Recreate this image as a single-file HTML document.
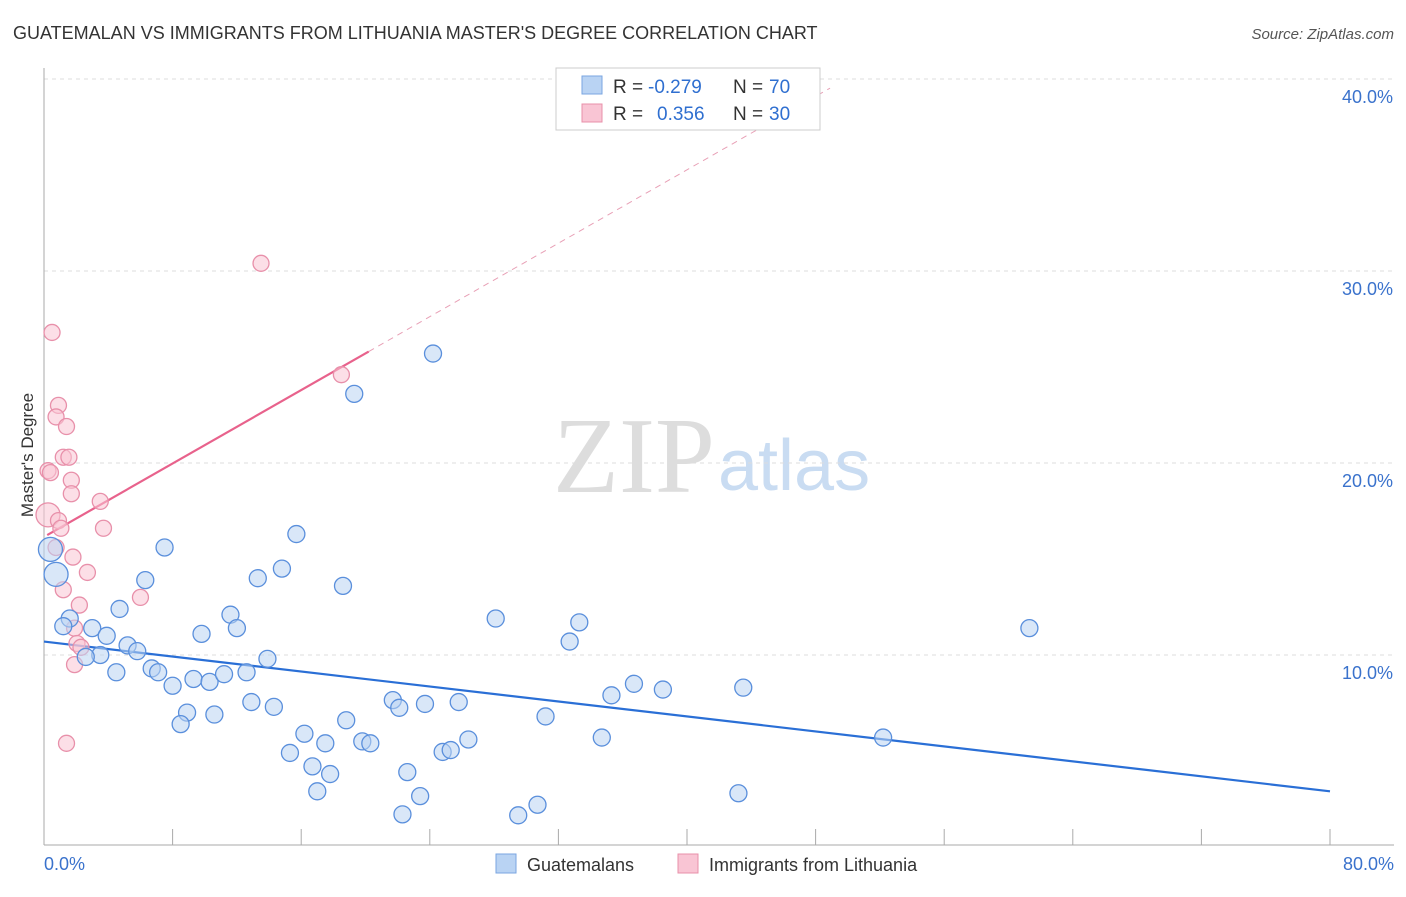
<!DOCTYPE html>
<html><head><meta charset="utf-8"><style>
body{margin:0;background:#fff;font-family:"Liberation Sans",sans-serif}
svg text{font-family:"Liberation Sans",sans-serif}
</style></head><body>
<svg id="chart" width="1406" height="892" xmlns="http://www.w3.org/2000/svg">
<text x="13" y="39" font-size="18" fill="#333">GUATEMALAN VS IMMIGRANTS FROM LITHUANIA MASTER'S DEGREE CORRELATION CHART</text>
<text x="1394" y="39" font-size="15" fill="#555" text-anchor="end" font-style="italic">Source: ZipAtlas.com</text>
<text x="553" y="492" font-size="108" fill="#ddd" style="font-family:'Liberation Serif',serif">ZIP</text>
<text x="718" y="490" font-size="72" fill="#c9dcf2">atlas</text>
<text transform="translate(33,455) rotate(-90)" font-size="17" fill="#333" text-anchor="middle">Master's Degree</text>
<g id="grid"></g><g id="axes"></g><g id="lines"></g><g id="pts"></g>
<g>
<rect x="556" y="68" width="264" height="62" fill="#fff" stroke="#ccc"/>
<rect x="582" y="76" width="20" height="18" fill="#b9d3f3" stroke="#7aa6e0"/>
<rect x="582" y="104" width="20" height="18" fill="#f9c5d4" stroke="#e890aa"/>
<text x="613" y="93" font-size="19" fill="#333">R =</text>
<text x="648" y="93" font-size="19" fill="#2f6fd0">-0.279</text>
<text x="733" y="93" font-size="19" fill="#333">N =</text>
<text x="769" y="93" font-size="19" fill="#2f6fd0">70</text>
<text x="613" y="120" font-size="19" fill="#333">R =</text>
<text x="657" y="120" font-size="19" fill="#2f6fd0">0.356</text>
<text x="733" y="120" font-size="19" fill="#333">N =</text>
<text x="769" y="120" font-size="19" fill="#2f6fd0">30</text>
</g>
<g>
<rect x="496" y="854" width="20" height="19" fill="#b9d3f3" stroke="#7aa6e0"/>
<text x="527" y="871" font-size="18" fill="#333">Guatemalans</text>
<rect x="678" y="854" width="20" height="19" fill="#f9c5d4" stroke="#e890aa"/>
<text x="709" y="871" font-size="18" fill="#333">Immigrants from Lithuania</text>
</g>
</svg>
<script>
const blueX=[24.2,19.3,7.5,15.7,14.8,13.3,18.6,6.3,4.7,1.6,1.2,3.0,3.9,11.6,12.0,9.8,28.1,33.3,32.7,61.3,5.2,5.8,3.5,2.6,4.5,6.7,7.1,8.0,9.3,10.3,11.2,12.6,13.9,36.7,35.3,38.5,43.5,12.9,14.3,21.7,22.1,23.7,25.8,8.9,10.6,8.5,18.8,31.2,16.2,17.5,19.8,20.3,15.3,26.4,24.8,25.3,34.7,52.2,16.7,17.8,22.6,17.0,23.4,22.3,29.5,30.7,43.2,0.75,0.4];
const blueY=[25.7,23.6,15.6,16.3,14.5,14.0,13.6,13.9,12.4,11.9,11.5,11.4,11.0,12.1,11.4,11.1,11.9,11.7,10.7,11.4,10.5,10.2,10.0,9.9,9.1,9.3,9.1,8.4,8.75,8.6,9.0,9.1,9.8,8.5,7.9,8.2,8.3,7.55,7.3,7.65,7.25,7.45,7.55,7.0,6.9,6.4,6.6,6.8,5.9,5.4,5.5,5.4,4.9,5.6,4.95,5.05,5.7,5.7,4.2,3.8,3.9,2.9,2.65,1.7,1.65,2.2,2.8,14.2,15.5];
const pinkX=[13.5,0.5,18.5,0.9,0.75,1.4,1.2,1.55,0.25,0.4,1.7,1.7,3.5,3.7,0.25,0.9,1.05,0.75,1.8,2.7,1.2,6.0,2.2,1.9,2.05,2.3,1.9,1.4];
const pinkY=[30.4,26.8,24.6,23.0,22.4,21.9,20.3,20.3,19.6,19.5,19.1,18.4,18.0,16.6,17.3,17.0,16.6,15.6,15.1,14.3,13.4,13.0,12.6,11.4,10.6,10.4,9.5,5.4];
const blueTrend=[10.7,2.9];
const pinkTrend=[16.15,0.478];
const yTicks=[10,20,30,40];
const yTickLabels=["10.0%","20.0%","30.0%","40.0%"];
const xAxisLabels=["0.0%","80.0%"];
const X=v=>44+v/80*1286, Y=v=>847-v*19.2;
const NS="http://www.w3.org/2000/svg";
function mk(t,a,p){const e=document.createElementNS(NS,t);for(const k in a)e.setAttribute(k,a[k]);p.appendChild(e);return e;}
const grid=document.getElementById('grid'),axes=document.getElementById('axes'),lines=document.getElementById('lines'),pts=document.getElementById('pts');
yTicks.forEach((t,i)=>{
 const l=mk('line',{x1:44,x2:1394,y1:Y(t),y2:Y(t),stroke:'#ddd','stroke-dasharray':'4,4'},grid);
 
 
 const tx=mk('text',{x:1393,y:Y(t)+24,'font-size':18,fill:'#3a72cc','text-anchor':'end'},grid);
 tx.textContent=yTickLabels[i];
 
 
});
const ya=mk('line',{x1:44,x2:44,y1:68,y2:845,stroke:'#aaa'},axes);


const xa=mk('line',{x1:44,x2:1394,y1:845,y2:845,stroke:'#aaa'},axes);


for(let v=0;v<=80;v+=8){
 const t=mk('line',{x1:X(v),x2:X(v),y1:829,y2:845,stroke:'#aaa'},axes);
 
 
}
[[0,'start',44],[80,'end',1394]].forEach((d,i)=>{
 const t=mk('text',{x:d[2],y:870,'font-size':18,fill:'#3a72cc','text-anchor':d[1]},axes);
 t.textContent=xAxisLabels[i];
 
 
});
function dot(x,y,r,fill,stroke,name){
 const c=mk('circle',{cx:X(x),cy:Y(y),r:r,fill:fill,stroke:stroke,'stroke-width':1.3,'fill-opacity':0.55},pts);
 
 
}
pinkX.forEach((x,i)=>dot(x,pinkY[i],i==14?12:8,'#f9c5d4','#e890aa','lithuania-point'));
blueX.forEach((x,i)=>dot(x,blueY[i],i>=67?12:8.5,'#b9d3f3','#5a8fdc','guatemalan-point'));
const bl=mk('line',{x1:X(0),y1:Y(blueTrend[0]),x2:X(80),y2:Y(blueTrend[1]),stroke:'#2a6fd6','stroke-width':2.2},lines);


const pf=x=>pinkTrend[0]+pinkTrend[1]*x;
const pl=mk('line',{x1:X(0.2),y1:Y(pf(0.2)),x2:X(20.2),y2:Y(pf(20.2)),stroke:'#e8628c','stroke-width':2.2},lines);


const pd=mk('line',{x1:X(20.2),y1:Y(pf(20.2)),x2:X(48.9),y2:Y(pf(48.9)),stroke:'#e8a0b6','stroke-width':1,'stroke-dasharray':'6,5'},lines);


</script>
</body></html>
